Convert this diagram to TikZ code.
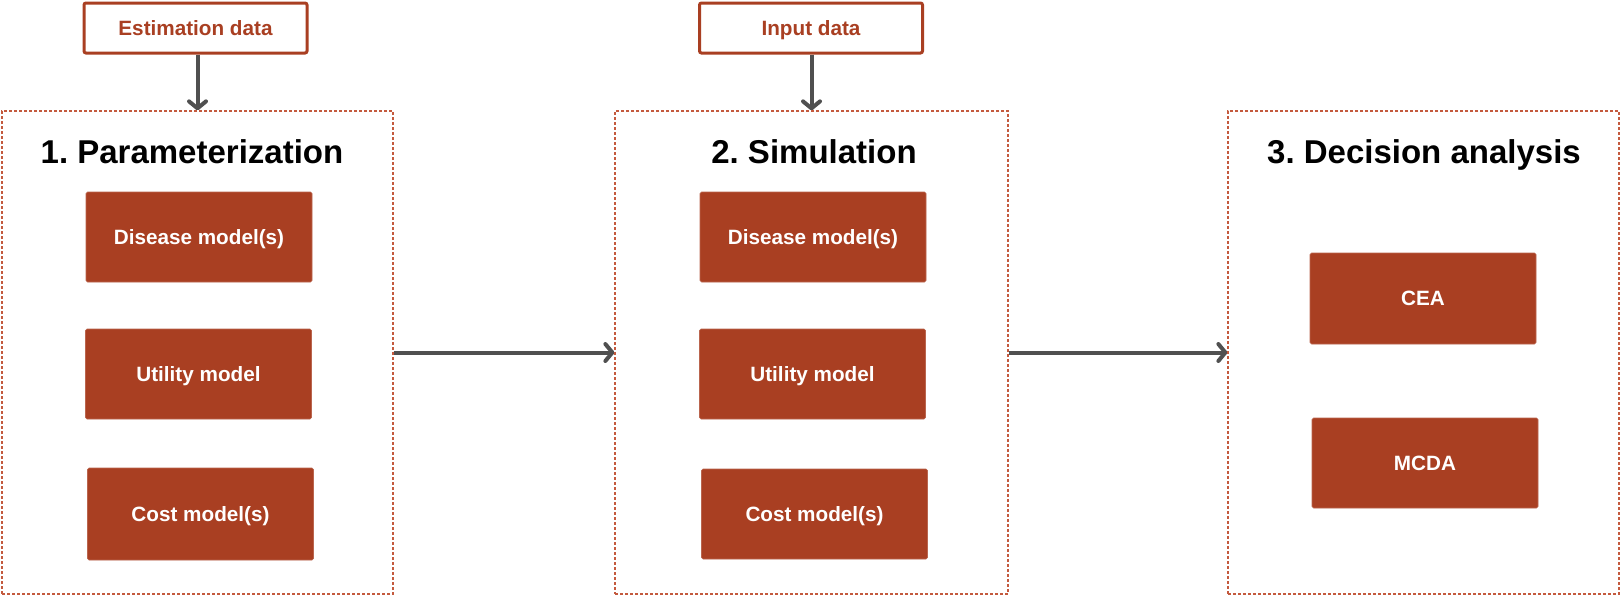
\documentclass[tikz,border=0pt]{standalone}
\usepackage{fontspec}
\setmainfont{Liberation Sans}
\usetikzlibrary{arrows.meta}
\definecolor{brick}{RGB}{169,63,34}
\definecolor{dashred}{RGB}{196,90,62}
\definecolor{arrowgray}{RGB}{80,80,80}
\tikzset{
  stage/.style={draw=dashred, line width=1.3pt, dash pattern=on 3pt off 2pt, minimum width=391pt, minimum height=483pt, inner sep=0pt},
  model/.style={fill=brick, draw=brick!80!white, line width=0.6pt, rounded corners=1.5pt, minimum width=226pt, minimum height=90pt, inner sep=0pt, text=white, text height=14.8pt, text depth=-4pt, font=\bfseries\fontsize{20.7}{24}\selectfont},
  datain/.style={draw=brick, line width=3pt, rounded corners=2pt, fill=white, minimum width=223pt, minimum height=50pt, inner sep=0pt, text=brick, text height=14.8pt, text depth=-4pt, font=\bfseries\fontsize{20.7}{24}\selectfont},
  title/.style={anchor=base, font=\bfseries\fontsize{33}{38}\selectfont},
  flow/.style={draw=arrowgray, line width=4pt, -{Straight Barb[length=7pt, width=17pt, round]}}
}
\begin{document}
\frenchspacing
\begin{tikzpicture}[x=1pt, y=-1pt]
\useasboundingbox[fill=white] (0,0) rectangle (1621,597);
% stages
\node[stage] (s1) at (197.5,352.5) {};
\node[stage, minimum width=393pt] (s2) at (811.5,352.5) {};
\node[stage] (s3) at (1423.5,352.5) {};
% titles
\node[title] (t1) at (192,163) {1. Parameterization};
\node[title] (t2) at (814,163) {2. Simulation};
\node[title] (t3) at (1424,163) {3. Decision analysis};
% data boxes
\node[datain] (est) at (195.5,28) {Estimation data};
\node[datain] (inp) at (811,28) {Input data};
% model boxes
\node[model] (d1) at (199,237) {Disease model(s)};
\node[model] (u1) at (198.5,374) {Utility model};
\node[model, minimum height=92pt] (c1) at (200.5,514) {Cost model(s)};
\node[model] (d2) at (813,237) {Disease model(s)};
\node[model] (u2) at (812.5,374) {Utility model};
\node[model] (c2) at (814.5,514) {Cost model(s)};
\node[model, minimum height=91pt] (cea) at (1423,298.5) {CEA};
\node[model] (mcda) at (1425,463) {MCDA};
% arrows
\draw[flow] (est.south -| s1.north) -- (s1.north);
\draw[flow] (inp.south -| s2.north) -- (s2.north);
\draw[flow] (s1.east) -- (s2.west);
\draw[flow] (s2.east) -- (s3.west);
\end{tikzpicture}
\end{document}
